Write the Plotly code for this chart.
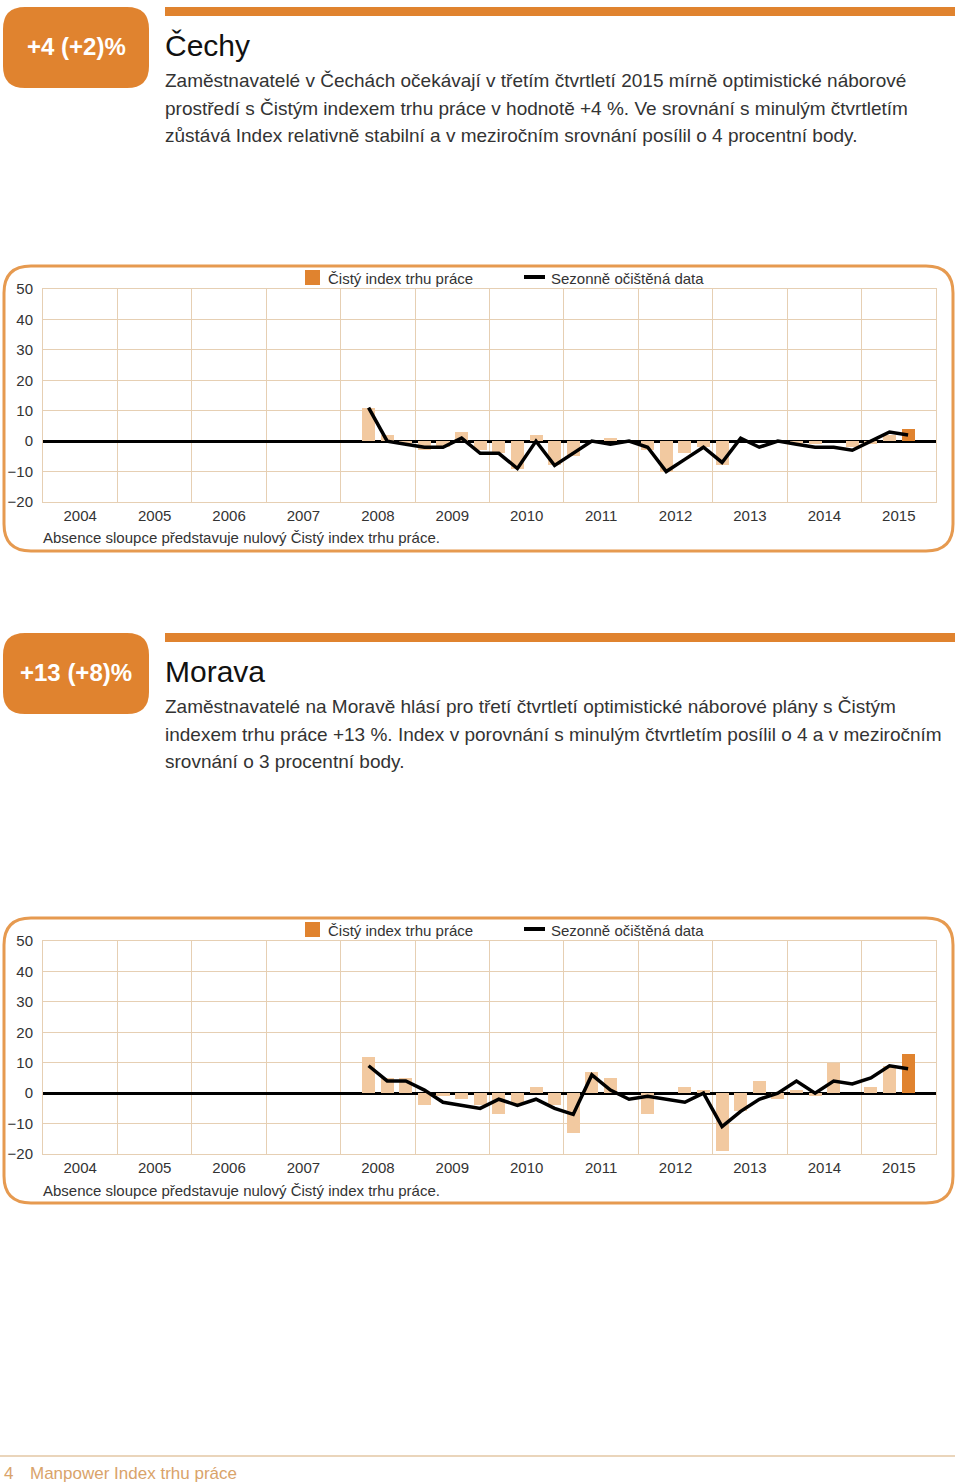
import plotly.graph_objects as go

W, H = 960, 1484
FONT = "Liberation Sans, Arial, sans-serif"
ORANGE = "#e0832f"
LIGHT = "#f2c9a0"
BORDER = "#e69a50"
GRID = "#e6cfb3"
TEXT = "#333333"

# quarters 2008 Q2 .. 2015 Q3
quarters = [f"{y}Q{q}" for y in range(2008, 2016) for q in range(1, 5)][1:31]
years = list(range(2004, 2016))

cechy_index = [11, 2, -1, -3, -2, 3, -3, -4, -9, 2, -8, -5, 0, 1, 0,
               -3, -10, -4, -2, -8, 0, 0, 0, -1, -1, 0, -2, -1, 2, 4]
cechy_sa = [11, 0, -1, -2, -2, 1, -4, -4, -9, 0, -8, -4, 0, -1, 0,
            -2, -10, -6, -2, -7, 1, -2, 0, -1, -2, -2, -3, 0, 3, 2]

morava_index = [12, 5, 5, -4, -1, -2, -4, -7, -4, 2, -4, -13, 7, 5, 0,
                -7, 0, 2, 1, -19, -6, 4, -2, 1, -1, 10, 0, 2, 9, 13]
morava_sa = [9, 4, 4, 1, -3, -4, -5, -2, -4, -2, -5, -7, 6, 1, -2,
             -1, -2, -3, 0, -11, -6, -2, 0, 4, 0, 4, 3, 5, 9, 8]

sections = [
    {"badge": "+4 (+2)%", "title": "Čechy",
     "lines": ["Zaměstnavatelé v Čechách očekávají v třetím čtvrtletí 2015 mírně optimistické náborové",
               "prostředí s Čistým indexem trhu práce v hodnotě +4 %. Ve srovnání s minulým čtvrtletím",
               "zůstává Index relativně stabilní a v meziročním srovnání posílil o 4 procentní body."],
     "index": cechy_index, "sa": cechy_sa, "top": 7, "chart_top": 266},
    {"badge": "+13 (+8)%", "title": "Morava",
     "lines": ["Zaměstnavatelé na Moravě hlásí pro třetí čtvrtletí optimistické náborové plány s Čistým",
               "indexem trhu práce +13 %. Index v porovnání s minulým čtvrtletím posílil o 4 a v meziročním",
               "srovnání o 3 procentní body."],
     "index": morava_index, "sa": morava_sa, "top": 633, "chart_top": 918},
]

legend_bar = "Čistý index trhu práce"
legend_line = "Sezonně očištěná data"
note = "Absence sloupce představuje nulový Čistý index trhu práce."
footer = "Manpower Index trhu práce"


def px(x):
    return x / W


def py(y):
    return 1 - y / H


def rounded(x0, y0, x1, y1, r):
    return (f"M {px(x0 + r)},{py(y0)} L {px(x1 - r)},{py(y0)} "
            f"Q {px(x1)},{py(y0)} {px(x1)},{py(y0 + r)} L {px(x1)},{py(y1 - r)} "
            f"Q {px(x1)},{py(y1)} {px(x1 - r)},{py(y1)} L {px(x0 + r)},{py(y1)} "
            f"Q {px(x0)},{py(y1)} {px(x0)},{py(y1 - r)} L {px(x0)},{py(y0 + r)} "
            f"Q {px(x0)},{py(y0)} {px(x0 + r)},{py(y0)} Z")


def qx(label):
    y, q = label.split("Q")
    return int(y) + (int(q) - 0.5) / 4


xs = [qx(q) for q in quarters]

fig = go.Figure()
shapes = []
annotations = []


def text(x, y, s, size, color=TEXT, anchor="left", bold=False):
    annotations.append(dict(
        x=px(x), y=py(y), xref="paper", yref="paper", text=f"<b>{s}</b>" if bold else s,
        showarrow=False, xanchor=anchor, yanchor="middle",
        font=dict(family=FONT, size=size, color=color)))


for i, sec in enumerate(sections):
    n = "" if i == 0 else str(i + 1)
    top = sec["top"]
    ct = sec["chart_top"]

    # header
    shapes.append(dict(type="path", path=rounded(3, top, 149, top + 81, 22),
                       xref="paper", yref="paper", fillcolor=ORANGE, line_width=0))
    shapes.append(dict(type="rect", x0=px(165), x1=px(955), y0=py(top), y1=py(top + 9),
                       xref="paper", yref="paper", fillcolor=ORANGE, line_width=0))
    text(76, top + 40, sec["badge"], 24, "white", anchor="center", bold=True)
    text(163, top + 38, sec["title"], 30, "#111111")
    for k, line in enumerate(sec["lines"]):
        text(163, top + 74 + 27 * k, line, 19)

    # chart frame
    shapes.append(dict(type="path", path=rounded(4, ct, 953, ct + 285, 27),
                       xref="paper", yref="paper", line=dict(color=BORDER, width=3)))

    # legend keys
    shapes.append(dict(type="rect", x0=px(305), x1=px(320), y0=py(ct + 4), y1=py(ct + 19),
                       xref="paper", yref="paper", fillcolor=ORANGE, line_width=0))
    shapes.append(dict(type="line", x0=px(524), x1=px(545), y0=py(ct + 11), y1=py(ct + 11),
                       xref="paper", yref="paper", line=dict(color="black", width=4)))
    text(326, ct + 12, legend_bar, 15)
    text(549, ct + 12, legend_line, 15)
    text(41, ct + 272, note, 15)

    colors = [LIGHT] * (len(quarters) - 1) + [ORANGE]
    fig.add_trace(go.Bar(x=xs, y=sec["index"], width=0.175, marker_color=colors,
                         marker_line_width=0, xaxis="x" + n, yaxis="y" + n,
                         showlegend=False))
    fig.add_trace(go.Scatter(x=xs, y=sec["sa"], mode="lines", line=dict(color="black", width=3.5),
                             xaxis="x" + n, yaxis="y" + n, showlegend=False))

    plot_top = ct + 23
    plot_bot = ct + 236
    fig.update_layout(**{
        "xaxis" + n: dict(
            domain=[px(43), px(936)], anchor="y" + n, range=[2004, 2016],
            tickvals=[y + 0.5 for y in years], ticktext=[str(y) for y in years],
            showgrid=False, ticks="", ticklabelstandoff=0, automargin=False,
            minor=dict(tickvals=list(range(2004, 2017)), showgrid=True, gridcolor=GRID, gridwidth=1),
            showline=True, linecolor=GRID, linewidth=1, mirror=True, zeroline=False,
            tickfont=dict(family=FONT, size=15, color=TEXT), fixedrange=True),
        "yaxis" + n: dict(
            domain=[py(plot_bot), py(plot_top)], anchor="x" + n, range=[-20, 50],
            dtick=10, gridcolor=GRID, gridwidth=1, zeroline=True, zerolinecolor="black",
            zerolinewidth=2.5, showline=True, linecolor=GRID, linewidth=1, mirror=True,
            ticks="", ticklabelstandoff=6, automargin=False,
            tickfont=dict(family=FONT, size=15, color=TEXT), fixedrange=True),
    })

# footer
shapes.append(dict(type="line", x0=0, x1=px(955), y0=py(1456), y1=py(1456),
                   xref="paper", yref="paper", line=dict(color="#e3c7a4", width=1.5)))
text(2, 1473, "4", 17, "#d9a36a")
text(28, 1473, footer, 17, "#d9a36a")

fig.update_layout(
    width=W, height=H, margin=dict(l=0, r=0, t=0, b=0, pad=0, autoexpand=False),
    paper_bgcolor="white", plot_bgcolor="white",
    shapes=shapes, annotations=annotations, bargap=0,
)

fig.write_html("out.html", config={"displayModeBar": False},
               post_script="document.body.style.margin='0px';")
